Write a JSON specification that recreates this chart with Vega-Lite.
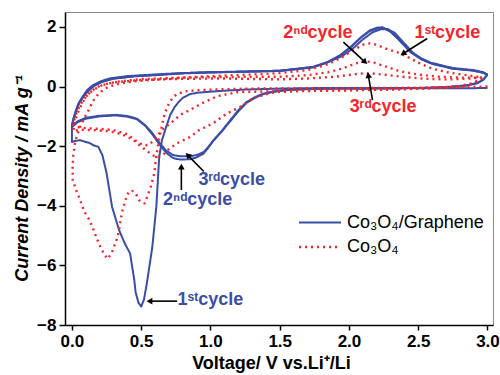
{
  "$schema": "https://vega.github.io/schema/vega-lite/v6.json",
  "width": 428,
  "height": 313,
  "autosize": {"type": "none"},
  "padding": {"left": 65, "top": 12, "right": 7, "bottom": 50},
  "background": "white",
  "config": {
    "view": {"stroke": "#8a8a8a", "strokeWidth": 1},
    "font": "Liberation Sans",
    "axis": {
      "domainColor": "black", "domainWidth": 1.5, "tickColor": "black", "tickWidth": 1.5,
      "labelFont": "Liberation Sans", "labelFontWeight": "bold", "labelFontSize": 17, "labelColor": "black",
      "titleFont": "Liberation Sans", "titleFontWeight": "bold", "titleFontSize": 17, "titleColor": "black",
      "grid": false
    },
    "legend": {
      "orient": "none", "legendX": 243, "legendY": 199, "title": null,
      "labelFont": "Liberation Sans", "labelFontSize": 18, "labelColor": "black",
      "symbolType": "M-2,0L2,0", "symbolSize": 441, "symbolStrokeWidth": 2,
      "labelOffset": 15, "rowPadding": 3
    }
  },
  "datasets": {
    "cv": [
      {"s":"G","c":1,"v":3.0,"j":-0.05},{"s":"G","c":1,"v":2.8,"j":-0.06},{"s":"G","c":1,"v":2.5,"j":-0.06},{"s":"G","c":1,"v":2.2,"j":-0.06},{"s":"G","c":1,"v":2.0,"j":-0.05},{"s":"G","c":1,"v":1.8,"j":-0.05},{"s":"G","c":1,"v":1.5,"j":-0.07},{"s":"G","c":1,"v":1.26,"j":-0.1},{"s":"G","c":1,"v":1.1,"j":-0.14},{"s":"G","c":1,"v":0.98,"j":-0.18},{"s":"G","c":1,"v":0.9,"j":-0.21},{"s":"G","c":1,"v":0.85,"j":-0.26},{"s":"G","c":1,"v":0.8,"j":-0.38},{"s":"G","c":1,"v":0.77,"j":-0.52},{"s":"G","c":1,"v":0.74,"j":-0.7},{"s":"G","c":1,"v":0.71,"j":-0.95},{"s":"G","c":1,"v":0.68,"j":-1.36},{"s":"G","c":1,"v":0.65,"j":-1.8},{"s":"G","c":1,"v":0.63,"j":-2.37},{"s":"G","c":1,"v":0.61,"j":-4.0},{"s":"G","c":1,"v":0.58,"j":-5.4},{"s":"G","c":1,"v":0.54,"j":-6.63},{"s":"G","c":1,"v":0.52,"j":-7.15},{"s":"G","c":1,"v":0.5,"j":-7.38},{"s":"G","c":1,"v":0.48,"j":-7.25},{"s":"G","c":1,"v":0.46,"j":-6.9},{"s":"G","c":1,"v":0.45,"j":-6.49},{"s":"G","c":1,"v":0.43,"j":-5.9},{"s":"G","c":1,"v":0.42,"j":-5.6},{"s":"G","c":1,"v":0.38,"j":-5.25},{"s":"G","c":1,"v":0.34,"j":-4.81},{"s":"G","c":1,"v":0.29,"j":-4.04},{"s":"G","c":1,"v":0.25,"j":-2.9},{"s":"G","c":1,"v":0.22,"j":-2.3},{"s":"G","c":1,"v":0.19,"j":-2.02},{"s":"G","c":1,"v":0.16,"j":-1.98},{"s":"G","c":1,"v":0.13,"j":-1.9},{"s":"G","c":1,"v":0.1,"j":-1.86},{"s":"G","c":1,"v":0.06,"j":-1.8},{"s":"G","c":1,"v":0.03,"j":-1.82},{"s":"G","c":1,"v":0.0,"j":-1.86},{"s":"G","c":1,"v":0.0,"j":-1.35},{"s":"G","c":1,"v":0.01,"j":-1.1},{"s":"G","c":1,"v":0.03,"j":-0.79},{"s":"G","c":1,"v":0.05,"j":-0.55},{"s":"G","c":1,"v":0.076,"j":-0.35},{"s":"G","c":1,"v":0.11,"j":-0.12},{"s":"G","c":1,"v":0.15,"j":0.04},{"s":"G","c":1,"v":0.21,"j":0.18},{"s":"G","c":1,"v":0.27,"j":0.27},{"s":"G","c":1,"v":0.4,"j":0.35},{"s":"G","c":1,"v":0.51,"j":0.38},{"s":"G","c":1,"v":0.7,"j":0.43},{"s":"G","c":1,"v":0.92,"j":0.47},{"s":"G","c":1,"v":1.28,"j":0.5},{"s":"G","c":1,"v":1.5,"j":0.53},{"s":"G","c":1,"v":1.74,"j":0.66},{"s":"G","c":1,"v":1.85,"j":0.82},{"s":"G","c":1,"v":1.95,"j":1.02},{"s":"G","c":1,"v":2.03,"j":1.28},{"s":"G","c":1,"v":2.1,"j":1.58},{"s":"G","c":1,"v":2.17,"j":1.82},{"s":"G","c":1,"v":2.23,"j":1.92},{"s":"G","c":1,"v":2.28,"j":1.93},{"s":"G","c":1,"v":2.33,"j":1.8},{"s":"G","c":1,"v":2.38,"j":1.55},{"s":"G","c":1,"v":2.46,"j":1.14},{"s":"G","c":1,"v":2.52,"j":0.95},{"s":"G","c":1,"v":2.59,"j":0.8},{"s":"G","c":1,"v":2.75,"j":0.62},{"s":"G","c":1,"v":2.9,"j":0.55},{"s":"G","c":1,"v":2.97,"j":0.48},{"s":"G","c":1,"v":3.0,"j":0.4},

      {"s":"G","c":2,"v":3.0,"j":0.4},{"s":"G","c":2,"v":2.97,"j":0.24},{"s":"G","c":2,"v":2.93,"j":0.12},{"s":"G","c":2,"v":2.85,"j":0.04},{"s":"G","c":2,"v":2.7,"j":-0.02},{"s":"G","c":2,"v":2.5,"j":-0.05},{"s":"G","c":2,"v":2.2,"j":-0.06},{"s":"G","c":2,"v":1.9,"j":-0.07},{"s":"G","c":2,"v":1.7,"j":-0.08},{"s":"G","c":2,"v":1.55,"j":-0.11},{"s":"G","c":2,"v":1.45,"j":-0.17},{"s":"G","c":2,"v":1.38,"j":-0.24},{"s":"G","c":2,"v":1.32,"j":-0.36},{"s":"G","c":2,"v":1.26,"j":-0.52},{"s":"G","c":2,"v":1.2,"j":-0.8},{"s":"G","c":2,"v":1.14,"j":-1.15},{"s":"G","c":2,"v":1.08,"j":-1.5},{"s":"G","c":2,"v":1.02,"j":-1.82},{"s":"G","c":2,"v":0.98,"j":-2.08},{"s":"G","c":2,"v":0.95,"j":-2.25},{"s":"G","c":2,"v":0.9,"j":-2.38},{"s":"G","c":2,"v":0.85,"j":-2.44},{"s":"G","c":2,"v":0.78,"j":-2.45},{"s":"G","c":2,"v":0.73,"j":-2.4},{"s":"G","c":2,"v":0.68,"j":-2.22},{"s":"G","c":2,"v":0.63,"j":-1.93},{"s":"G","c":2,"v":0.58,"j":-1.6},{"s":"G","c":2,"v":0.53,"j":-1.32},{"s":"G","c":2,"v":0.47,"j":-1.1},{"s":"G","c":2,"v":0.4,"j":-1.01},{"s":"G","c":2,"v":0.32,"j":-0.97},{"s":"G","c":2,"v":0.2,"j":-1.0},{"s":"G","c":2,"v":0.1,"j":-1.08},{"s":"G","c":2,"v":0.04,"j":-1.2},{"s":"G","c":2,"v":0.0,"j":-1.36},{"s":"G","c":2,"v":0.01,"j":-1.13},{"s":"G","c":2,"v":0.03,"j":-0.83},{"s":"G","c":2,"v":0.05,"j":-0.58},{"s":"G","c":2,"v":0.08,"j":-0.36},{"s":"G","c":2,"v":0.12,"j":-0.14},{"s":"G","c":2,"v":0.16,"j":0.02},{"s":"G","c":2,"v":0.22,"j":0.16},{"s":"G","c":2,"v":0.3,"j":0.26},{"s":"G","c":2,"v":0.45,"j":0.34},{"s":"G","c":2,"v":0.6,"j":0.38},{"s":"G","c":2,"v":0.8,"j":0.44},{"s":"G","c":2,"v":1.0,"j":0.47},{"s":"G","c":2,"v":1.28,"j":0.5},{"s":"G","c":2,"v":1.5,"j":0.52},{"s":"G","c":2,"v":1.74,"j":0.64},{"s":"G","c":2,"v":1.85,"j":0.82},{"s":"G","c":2,"v":1.94,"j":1.05},{"s":"G","c":2,"v":2.02,"j":1.35},{"s":"G","c":2,"v":2.09,"j":1.66},{"s":"G","c":2,"v":2.15,"j":1.88},{"s":"G","c":2,"v":2.2,"j":1.97},{"s":"G","c":2,"v":2.24,"j":1.99},{"s":"G","c":2,"v":2.29,"j":1.88},{"s":"G","c":2,"v":2.35,"j":1.62},{"s":"G","c":2,"v":2.44,"j":1.17},{"s":"G","c":2,"v":2.52,"j":0.92},{"s":"G","c":2,"v":2.6,"j":0.77},{"s":"G","c":2,"v":2.75,"j":0.6},{"s":"G","c":2,"v":2.9,"j":0.53},{"s":"G","c":2,"v":2.97,"j":0.46},{"s":"G","c":2,"v":3.0,"j":0.4},

      {"s":"G","c":3,"v":3.0,"j":0.4},{"s":"G","c":3,"v":2.97,"j":0.22},{"s":"G","c":3,"v":2.92,"j":0.1},{"s":"G","c":3,"v":2.84,"j":0.03},{"s":"G","c":3,"v":2.7,"j":-0.03},{"s":"G","c":3,"v":2.5,"j":-0.05},{"s":"G","c":3,"v":2.2,"j":-0.06},{"s":"G","c":3,"v":1.9,"j":-0.07},{"s":"G","c":3,"v":1.7,"j":-0.09},{"s":"G","c":3,"v":1.55,"j":-0.12},{"s":"G","c":3,"v":1.45,"j":-0.18},{"s":"G","c":3,"v":1.38,"j":-0.26},{"s":"G","c":3,"v":1.32,"j":-0.38},{"s":"G","c":3,"v":1.26,"j":-0.55},{"s":"G","c":3,"v":1.2,"j":-0.84},{"s":"G","c":3,"v":1.14,"j":-1.18},{"s":"G","c":3,"v":1.08,"j":-1.52},{"s":"G","c":3,"v":1.02,"j":-1.82},{"s":"G","c":3,"v":0.98,"j":-2.05},{"s":"G","c":3,"v":0.95,"j":-2.2},{"s":"G","c":3,"v":0.9,"j":-2.3},{"s":"G","c":3,"v":0.85,"j":-2.34},{"s":"G","c":3,"v":0.78,"j":-2.34},{"s":"G","c":3,"v":0.73,"j":-2.3},{"s":"G","c":3,"v":0.68,"j":-2.15},{"s":"G","c":3,"v":0.63,"j":-1.88},{"s":"G","c":3,"v":0.58,"j":-1.56},{"s":"G","c":3,"v":0.53,"j":-1.3},{"s":"G","c":3,"v":0.47,"j":-1.08},{"s":"G","c":3,"v":0.4,"j":-0.99},{"s":"G","c":3,"v":0.32,"j":-0.95},{"s":"G","c":3,"v":0.2,"j":-0.98},{"s":"G","c":3,"v":0.1,"j":-1.05},{"s":"G","c":3,"v":0.04,"j":-1.17},{"s":"G","c":3,"v":0.0,"j":-1.32},{"s":"G","c":3,"v":0.01,"j":-1.1},{"s":"G","c":3,"v":0.03,"j":-0.8},{"s":"G","c":3,"v":0.05,"j":-0.56},{"s":"G","c":3,"v":0.08,"j":-0.34},{"s":"G","c":3,"v":0.12,"j":-0.12},{"s":"G","c":3,"v":0.16,"j":0.03},{"s":"G","c":3,"v":0.22,"j":0.17},{"s":"G","c":3,"v":0.3,"j":0.27},{"s":"G","c":3,"v":0.45,"j":0.35},{"s":"G","c":3,"v":0.6,"j":0.39},{"s":"G","c":3,"v":0.8,"j":0.45},{"s":"G","c":3,"v":1.0,"j":0.48},{"s":"G","c":3,"v":1.28,"j":0.51},{"s":"G","c":3,"v":1.5,"j":0.53},{"s":"G","c":3,"v":1.74,"j":0.65},{"s":"G","c":3,"v":1.85,"j":0.83},{"s":"G","c":3,"v":1.94,"j":1.06},{"s":"G","c":3,"v":2.02,"j":1.36},{"s":"G","c":3,"v":2.09,"j":1.66},{"s":"G","c":3,"v":2.15,"j":1.86},{"s":"G","c":3,"v":2.2,"j":1.94},{"s":"G","c":3,"v":2.25,"j":1.95},{"s":"G","c":3,"v":2.3,"j":1.84},{"s":"G","c":3,"v":2.36,"j":1.58},{"s":"G","c":3,"v":2.45,"j":1.14},{"s":"G","c":3,"v":2.53,"j":0.9},{"s":"G","c":3,"v":2.6,"j":0.76},{"s":"G","c":3,"v":2.75,"j":0.6},{"s":"G","c":3,"v":2.9,"j":0.54},{"s":"G","c":3,"v":2.97,"j":0.46},{"s":"G","c":3,"v":3.0,"j":0.4},

      {"s":"C","c":1,"v":3.0,"j":0.0},{"s":"C","c":1,"v":2.8,"j":-0.02},{"s":"C","c":1,"v":2.5,"j":-0.04},{"s":"C","c":1,"v":2.2,"j":-0.05},{"s":"C","c":1,"v":1.9,"j":-0.06},{"s":"C","c":1,"v":1.6,"j":-0.06},{"s":"C","c":1,"v":1.28,"j":-0.07},{"s":"C","c":1,"v":1.1,"j":-0.09},{"s":"C","c":1,"v":0.92,"j":-0.12},{"s":"C","c":1,"v":0.82,"j":-0.16},{"s":"C","c":1,"v":0.76,"j":-0.25},{"s":"C","c":1,"v":0.73,"j":-0.36},{"s":"C","c":1,"v":0.7,"j":-0.56},{"s":"C","c":1,"v":0.67,"j":-0.9},{"s":"C","c":1,"v":0.65,"j":-1.3},{"s":"C","c":1,"v":0.63,"j":-1.75},{"s":"C","c":1,"v":0.61,"j":-2.3},{"s":"C","c":1,"v":0.595,"j":-2.9},{"s":"C","c":1,"v":0.573,"j":-3.31},{"s":"C","c":1,"v":0.548,"j":-3.64},{"s":"C","c":1,"v":0.525,"j":-3.92},{"s":"C","c":1,"v":0.505,"j":-3.9},{"s":"C","c":1,"v":0.488,"j":-3.83},{"s":"C","c":1,"v":0.459,"j":-3.58},{"s":"C","c":1,"v":0.435,"j":-3.5},{"s":"C","c":1,"v":0.416,"j":-3.5},{"s":"C","c":1,"v":0.4,"j":-3.62},{"s":"C","c":1,"v":0.387,"j":-3.81},{"s":"C","c":1,"v":0.368,"j":-4.09},{"s":"C","c":1,"v":0.356,"j":-4.37},{"s":"C","c":1,"v":0.331,"j":-5.04},{"s":"C","c":1,"v":0.308,"j":-5.32},{"s":"C","c":1,"v":0.284,"j":-5.62},{"s":"C","c":1,"v":0.255,"j":-5.78},{"s":"C","c":1,"v":0.223,"j":-5.54},{"s":"C","c":1,"v":0.199,"j":-5.32},{"s":"C","c":1,"v":0.175,"j":-5.04},{"s":"C","c":1,"v":0.151,"j":-4.75},{"s":"C","c":1,"v":0.127,"j":-4.48},{"s":"C","c":1,"v":0.09,"j":-4.2},{"s":"C","c":1,"v":0.054,"j":-3.74},{"s":"C","c":1,"v":0.03,"j":-3.47},{"s":"C","c":1,"v":0.006,"j":-3.14},{"s":"C","c":1,"v":0.005,"j":-2.7},{"s":"C","c":1,"v":0.01,"j":-2.3},{"s":"C","c":1,"v":0.02,"j":-1.95},{"s":"C","c":1,"v":0.035,"j":-1.65},{"s":"C","c":1,"v":0.06,"j":-1.35},{"s":"C","c":1,"v":0.09,"j":-1.05},{"s":"C","c":1,"v":0.12,"j":-0.8},{"s":"C","c":1,"v":0.15,"j":-0.5},{"s":"C","c":1,"v":0.19,"j":-0.25},{"s":"C","c":1,"v":0.24,"j":-0.06},{"s":"C","c":1,"v":0.32,"j":0.08},{"s":"C","c":1,"v":0.44,"j":0.17},{"s":"C","c":1,"v":0.63,"j":0.24},{"s":"C","c":1,"v":0.92,"j":0.33},{"s":"C","c":1,"v":1.28,"j":0.4},{"s":"C","c":1,"v":1.5,"j":0.45},{"s":"C","c":1,"v":1.7,"j":0.55},{"s":"C","c":1,"v":1.85,"j":0.75},{"s":"C","c":1,"v":1.95,"j":0.98},{"s":"C","c":1,"v":2.03,"j":1.22},{"s":"C","c":1,"v":2.1,"j":1.4},{"s":"C","c":1,"v":2.15,"j":1.45},{"s":"C","c":1,"v":2.2,"j":1.4},{"s":"C","c":1,"v":2.28,"j":1.25},{"s":"C","c":1,"v":2.35,"j":1.15},{"s":"C","c":1,"v":2.42,"j":1.0},{"s":"C","c":1,"v":2.5,"j":0.8},{"s":"C","c":1,"v":2.6,"j":0.6},{"s":"C","c":1,"v":2.72,"j":0.47},{"s":"C","c":1,"v":2.85,"j":0.38},{"s":"C","c":1,"v":2.96,"j":0.3},

      {"s":"C","c":2,"v":2.96,"j":0.3},{"s":"C","c":2,"v":2.9,"j":0.12},{"s":"C","c":2,"v":2.8,"j":0.02},{"s":"C","c":2,"v":2.6,"j":-0.05},{"s":"C","c":2,"v":2.3,"j":-0.1},{"s":"C","c":2,"v":2.0,"j":-0.13},{"s":"C","c":2,"v":1.7,"j":-0.15},{"s":"C","c":2,"v":1.5,"j":-0.18},{"s":"C","c":2,"v":1.43,"j":-0.22},{"s":"C","c":2,"v":1.31,"j":-0.39},{"s":"C","c":2,"v":1.21,"j":-0.7},{"s":"C","c":2,"v":1.12,"j":-0.9},{"s":"C","c":2,"v":1.02,"j":-1.23},{"s":"C","c":2,"v":0.92,"j":-1.46},{"s":"C","c":2,"v":0.85,"j":-1.7},{"s":"C","c":2,"v":0.76,"j":-1.9},{"s":"C","c":2,"v":0.7,"j":-2.1},{"s":"C","c":2,"v":0.66,"j":-2.28},{"s":"C","c":2,"v":0.62,"j":-2.38},{"s":"C","c":2,"v":0.58,"j":-2.3},{"s":"C","c":2,"v":0.51,"j":-2.05},{"s":"C","c":2,"v":0.44,"j":-1.78},{"s":"C","c":2,"v":0.36,"j":-1.6},{"s":"C","c":2,"v":0.27,"j":-1.5},{"s":"C","c":2,"v":0.15,"j":-1.46},{"s":"C","c":2,"v":0.05,"j":-1.45},{"s":"C","c":2,"v":0.01,"j":-1.5},{"s":"C","c":2,"v":0.02,"j":-1.2},{"s":"C","c":2,"v":0.04,"j":-0.9},{"s":"C","c":2,"v":0.07,"j":-0.6},{"s":"C","c":2,"v":0.1,"j":-0.35},{"s":"C","c":2,"v":0.15,"j":-0.12},{"s":"C","c":2,"v":0.22,"j":0.05},{"s":"C","c":2,"v":0.32,"j":0.16},{"s":"C","c":2,"v":0.5,"j":0.25},{"s":"C","c":2,"v":0.8,"j":0.3},{"s":"C","c":2,"v":1.1,"j":0.32},{"s":"C","c":2,"v":1.5,"j":0.33},{"s":"C","c":2,"v":1.7,"j":0.38},{"s":"C","c":2,"v":1.85,"j":0.48},{"s":"C","c":2,"v":1.95,"j":0.6},{"s":"C","c":2,"v":2.03,"j":0.74},{"s":"C","c":2,"v":2.08,"j":0.82},{"s":"C","c":2,"v":2.12,"j":0.85},{"s":"C","c":2,"v":2.18,"j":0.8},{"s":"C","c":2,"v":2.26,"j":0.68},{"s":"C","c":2,"v":2.36,"j":0.52},{"s":"C","c":2,"v":2.5,"j":0.4},{"s":"C","c":2,"v":2.65,"j":0.33},{"s":"C","c":2,"v":2.8,"j":0.3},{"s":"C","c":2,"v":2.96,"j":0.3},

      {"s":"C","c":3,"v":2.96,"j":0.3},{"s":"C","c":3,"v":2.9,"j":0.1},{"s":"C","c":3,"v":2.8,"j":0.0},{"s":"C","c":3,"v":2.6,"j":-0.06},{"s":"C","c":3,"v":2.3,"j":-0.1},{"s":"C","c":3,"v":2.0,"j":-0.12},{"s":"C","c":3,"v":1.7,"j":-0.13},{"s":"C","c":3,"v":1.5,"j":-0.15},{"s":"C","c":3,"v":1.3,"j":-0.18},{"s":"C","c":3,"v":1.19,"j":-0.19},{"s":"C","c":3,"v":1.12,"j":-0.26},{"s":"C","c":3,"v":1.05,"j":-0.32},{"s":"C","c":3,"v":0.94,"j":-0.56},{"s":"C","c":3,"v":0.85,"j":-0.79},{"s":"C","c":3,"v":0.78,"j":-0.96},{"s":"C","c":3,"v":0.72,"j":-1.2},{"s":"C","c":3,"v":0.65,"j":-1.46},{"s":"C","c":3,"v":0.6,"j":-1.75},{"s":"C","c":3,"v":0.56,"j":-1.95},{"s":"C","c":3,"v":0.52,"j":-1.98},{"s":"C","c":3,"v":0.47,"j":-1.85},{"s":"C","c":3,"v":0.4,"j":-1.6},{"s":"C","c":3,"v":0.3,"j":-1.46},{"s":"C","c":3,"v":0.2,"j":-1.42},{"s":"C","c":3,"v":0.1,"j":-1.4},{"s":"C","c":3,"v":0.03,"j":-1.35},{"s":"C","c":3,"v":0.01,"j":-1.3},{"s":"C","c":3,"v":0.02,"j":-1.05},{"s":"C","c":3,"v":0.04,"j":-0.8},{"s":"C","c":3,"v":0.07,"j":-0.55},{"s":"C","c":3,"v":0.1,"j":-0.35},{"s":"C","c":3,"v":0.14,"j":-0.15},{"s":"C","c":3,"v":0.2,"j":0.02},{"s":"C","c":3,"v":0.3,"j":0.14},{"s":"C","c":3,"v":0.5,"j":0.22},{"s":"C","c":3,"v":0.8,"j":0.26},{"s":"C","c":3,"v":1.1,"j":0.27},{"s":"C","c":3,"v":1.5,"j":0.24},{"s":"C","c":3,"v":1.7,"j":0.27},{"s":"C","c":3,"v":1.9,"j":0.33},{"s":"C","c":3,"v":2.02,"j":0.4},{"s":"C","c":3,"v":2.1,"j":0.44},{"s":"C","c":3,"v":2.16,"j":0.44},{"s":"C","c":3,"v":2.25,"j":0.4},{"s":"C","c":3,"v":2.38,"j":0.33},{"s":"C","c":3,"v":2.55,"j":0.26},{"s":"C","c":3,"v":2.7,"j":0.24},{"s":"C","c":3,"v":2.85,"j":0.26},{"s":"C","c":3,"v":2.96,"j":0.3}
    ],
    "labels": [
      {"g":"G","t":"3ʳᵈcycle","v":1.154,"j":-3.14},
      {"g":"G","t":"2ⁿᵈcycle","v":0.908,"j":-3.81},
      {"g":"G","t":"1ˢᵗcycle","v":1.0,"j":-7.15},
      {"g":"C","t":"2ⁿᵈcycle","v":1.776,"j":1.79},
      {"g":"C","t":"1ˢᵗcycle","v":2.71,"j":1.79},
      {"g":"C","t":"3ʳᵈcycle","v":2.247,"j":-0.7}
    ],
    "arrows": [
      {"a":"b1","v":0.76,"j":-7.2,"v2":0.56,"j2":-7.2},
      {"a":"b2","v":0.79,"j":-3.47,"v2":0.79,"j2":-2.69},
      {"a":"b3","v":0.952,"j":-2.85,"v2":0.836,"j2":-2.3},
      {"a":"r2","v":1.96,"j":1.49,"v2":2.117,"j2":0.82},
      {"a":"r1","v":2.565,"j":1.61,"v2":2.39,"j2":1.1},
      {"a":"r3","v":2.17,"j":-0.46,"v2":2.14,"j2":0.38}
    ]
  },
  "layer": [
    {
      "data": {"name": "cv"},
      "transform": [{"window": [{"op": "row_number", "as": "i"}]}],
      "mark": {"type": "line", "strokeCap": "butt", "strokeJoin": "round"},
      "encoding": {
        "x": {"field": "v", "type": "quantitative", "scale": {"domain": [-0.05, 3.04], "nice": false, "zero": false},
          "axis": {"values": [0,0.25,0.5,0.75,1,1.25,1.5,1.75,2,2.25,2.5,2.75,3], "labelExpr": "datum.value % 0.5 == 0 ? format(datum.value, '.1f') : ''", "tickSize": 5, "labelPadding": 3, "title": "Voltage/ V vs.Li⁺/Li", "titleFontSize": 18, "titlePadding": 5, "titleX": 206, "labelFlush": false}},
        "y": {"field": "j", "type": "quantitative", "scale": {"domain": [-8, 2.5], "nice": false, "zero": false},
          "axis": {"values": [-8,-7,-6,-5,-4,-3,-2,-1,0,1,2], "labelExpr": "datum.value % 2 == 0 ? datum.label : ''", "tickSize": 6, "labelPadding": 3, "title": "Current Density / mA g⁻¹", "titleFontStyle": "italic", "titleFontSize": 18, "titlePadding": 5, "titleY": 166, "labelFlush": false}},
        "order": {"field": "i", "type": "quantitative"},
        "detail": {"field": "c"},
        "color": {"field": "s", "type": "nominal", "scale": {"domain": ["G", "C"], "range": ["#3b4ea6", "#f2262c"]},
          "legend": {"labelExpr": "datum.label == 'G' ? 'Co₃O₄/Graphene' : 'Co₃O₄'"}},
        "strokeDash": {"field": "s", "type": "nominal", "scale": {"domain": ["G", "C"], "range": [[1, 0], [2, 4]]}, "legend": {"labelExpr": "datum.label == 'G' ? 'Co₃O₄/Graphene' : 'Co₃O₄'"}},
        "strokeWidth": {"field": "s", "type": "nominal", "scale": {"domain": ["G", "C"], "range": [2, 2.4]}, "legend": null}
      }
    },
    {
      "data": {"name": "arrows"},
      "mark": {"type": "rule", "color": "black", "strokeWidth": 1.6},
      "encoding": {
        "x": {"field": "v", "type": "quantitative"},
        "y": {"field": "j", "type": "quantitative"},
        "x2": {"field": "v2"},
        "y2": {"field": "j2"}
      }
    },
    {
      "data": {"name": "arrows"},
      "transform": [{"calculate": "atan2((datum.v2 - datum.v) * 138.2, (datum.j2 - datum.j) * 29.85) * 180 / PI", "as": "ang"}],
      "mark": {"type": "point", "shape": "triangle-up", "filled": true, "color": "black", "size": 45, "opacity": 1},
      "encoding": {
        "x": {"field": "v2", "type": "quantitative"},
        "y": {"field": "j2", "type": "quantitative"},
        "angle": {"field": "ang", "type": "quantitative", "scale": null}
      }
    },
    {
      "data": {"name": "labels"},
      "transform": [{"filter": "datum.g == 'G'"}],
      "mark": {"type": "text", "font": "Liberation Sans", "fontWeight": "bold", "fontSize": 18, "color": "#3b4ea6", "baseline": "middle", "align": "center"},
      "encoding": {
        "x": {"field": "v", "type": "quantitative"},
        "y": {"field": "j", "type": "quantitative"},
        "text": {"field": "t"}
      }
    },
    {
      "data": {"name": "labels"},
      "transform": [{"filter": "datum.g == 'C'"}],
      "mark": {"type": "text", "font": "Liberation Sans", "fontWeight": "bold", "fontSize": 18, "color": "#f2262c", "baseline": "middle", "align": "center"},
      "encoding": {
        "x": {"field": "v", "type": "quantitative"},
        "y": {"field": "j", "type": "quantitative"},
        "text": {"field": "t"}
      }
    }
  ]
}
